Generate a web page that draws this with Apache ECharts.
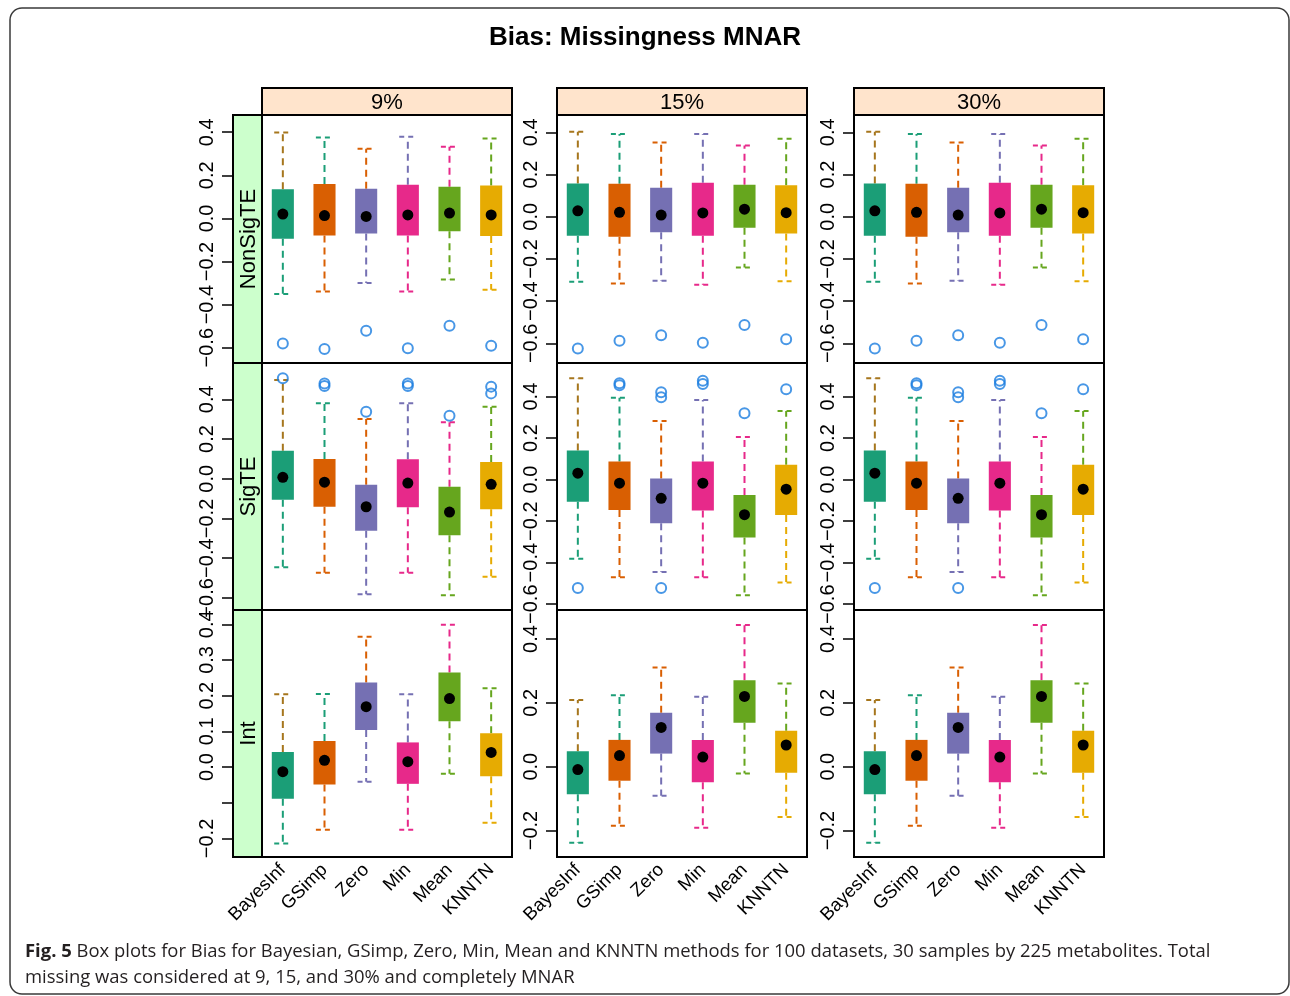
<!DOCTYPE html>
<html>
<head>
<meta charset="utf-8">
<script src="https://cdn.jsdelivr.net/npm/echarts@6/dist/echarts.min.js"></script>
<style>
html,body{margin:0;padding:0;background:#fff;}
#chart{width:1290px;height:996px;}
</style>
</head>
<body>
<div id="chart"></div>
<script>
// ---------------- DATA ----------------
const methods = ['BayesInf', 'GSimp', 'Zero', 'Min', 'Mean', 'KNNTN'];
const pctLabels = ['9%', '15%', '30%'];
const rowLabels = ['NonSigTE', 'SigTE', 'Int'];

// each row: [lowerWhisker, Q1, median, Q3, upperWhisker] per method
const nonSigTE_9 = [
  [-0.351, -0.094, 0.020, 0.135, 0.399],
  [-0.339, -0.079, 0.013, 0.160, 0.376],
  [-0.300, -0.070, 0.009, 0.138, 0.323],
  [-0.339, -0.079, 0.016, 0.156, 0.379],
  [-0.284, -0.060, 0.025, 0.147, 0.333],
  [-0.331, -0.082, 0.016, 0.153, 0.371]
];
const nonSigTE_15 = [
  [-0.308, -0.090, 0.028, 0.158, 0.403],
  [-0.316, -0.095, 0.021, 0.156, 0.392],
  [-0.303, -0.074, 0.008, 0.137, 0.352],
  [-0.322, -0.090, 0.018, 0.161, 0.392],
  [-0.240, -0.052, 0.036, 0.152, 0.338],
  [-0.306, -0.079, 0.019, 0.149, 0.370]
];
const nonSigTE_30 = [
  [-0.308, -0.090, 0.028, 0.158, 0.403],
  [-0.316, -0.095, 0.021, 0.156, 0.392],
  [-0.303, -0.074, 0.008, 0.137, 0.352],
  [-0.322, -0.090, 0.018, 0.161, 0.392],
  [-0.240, -0.052, 0.036, 0.152, 0.338],
  [-0.306, -0.079, 0.019, 0.149, 0.370]
];
const sigTE_9 = [
  [-0.446, -0.106, 0.007, 0.141, 0.497],
  [-0.474, -0.141, -0.017, 0.099, 0.380],
  [-0.582, -0.262, -0.141, -0.030, 0.301],
  [-0.474, -0.143, -0.022, 0.098, 0.380],
  [-0.587, -0.284, -0.168, -0.040, 0.284],
  [-0.494, -0.153, -0.028, 0.084, 0.363]
];
const sigTE_15 = [
  [-0.381, -0.106, 0.031, 0.140, 0.489],
  [-0.470, -0.146, -0.017, 0.087, 0.395],
  [-0.445, -0.210, -0.090, 0.005, 0.283],
  [-0.470, -0.149, -0.017, 0.087, 0.384],
  [-0.557, -0.279, -0.169, -0.074, 0.206],
  [-0.496, -0.170, -0.046, 0.072, 0.331]
];
const sigTE_30 = [
  [-0.381, -0.106, 0.031, 0.140, 0.489],
  [-0.470, -0.146, -0.017, 0.087, 0.395],
  [-0.445, -0.210, -0.090, 0.005, 0.283],
  [-0.470, -0.149, -0.017, 0.087, 0.384],
  [-0.557, -0.279, -0.169, -0.074, 0.206],
  [-0.496, -0.170, -0.046, 0.072, 0.331]
];
const int_9 = [
  [-0.214, -0.089, -0.013, 0.042, 0.204],
  [-0.176, -0.049, 0.019, 0.073, 0.205],
  [-0.041, 0.104, 0.169, 0.237, 0.365],
  [-0.176, -0.047, 0.015, 0.069, 0.204],
  [-0.019, 0.128, 0.192, 0.265, 0.399],
  [-0.156, -0.026, 0.041, 0.095, 0.221]
];
const int_15 = [
  [-0.238, -0.086, -0.009, 0.048, 0.209],
  [-0.185, -0.044, 0.035, 0.084, 0.224],
  [-0.091, 0.041, 0.123, 0.169, 0.311],
  [-0.191, -0.049, 0.030, 0.084, 0.219],
  [-0.021, 0.138, 0.220, 0.271, 0.444],
  [-0.158, -0.019, 0.068, 0.113, 0.261]
];
const int_30 = [
  [-0.238, -0.086, -0.009, 0.048, 0.209],
  [-0.185, -0.044, 0.035, 0.084, 0.224],
  [-0.091, 0.041, 0.123, 0.169, 0.311],
  [-0.191, -0.049, 0.030, 0.084, 0.219],
  [-0.021, 0.138, 0.220, 0.271, 0.444],
  [-0.158, -0.019, 0.068, 0.113, 0.261]
];

// outliers: [methodIndex, value]
const out_nonSigTE_9 = [[0,-0.580],[1,-0.606],[2,-0.521],[3,-0.603],[4,-0.498],[5,-0.591]];
const out_nonSigTE_15 = [[0,-0.624],[1,-0.588],[2,-0.562],[3,-0.597],[4,-0.513],[5,-0.581]];
const out_nonSigTE_30 = [[0,-0.624],[1,-0.588],[2,-0.562],[3,-0.597],[4,-0.513],[5,-0.581]];
const out_sigTE_9 = [[0,0.506],[1,0.480],[1,0.467],[2,0.338],[3,0.480],[3,0.467],[4,0.317],[5,0.464],[5,0.430]];
const out_sigTE_15 = [[0,-0.522],[1,0.465],[1,0.455],[2,0.421],[2,0.397],[2,-0.522],[3,0.477],[3,0.461],[4,0.320],[5,0.436]];
const out_sigTE_30 = [[0,-0.522],[1,0.465],[1,0.455],[2,0.421],[2,0.397],[2,-0.522],[3,0.477],[3,0.461],[4,0.320],[5,0.436]];
const out_int_9 = [];
const out_int_15 = [];
const out_int_30 = [];

// y-axis ticks and labels per panel
const ticksWide = [-0.6, -0.4, -0.2, 0.0, 0.2, 0.4];
const ticksInt9 = [-0.2, -0.1, 0.0, 0.1, 0.2, 0.3, 0.4];
const labelsInt9 = [-0.2, 0.0, 0.1, 0.2, 0.3, 0.4];
const ticksInt = [-0.2, 0.0, 0.2, 0.4];

// y ranges per panel [min, max]
const yRangeNonSig = [[-0.671, 0.480], [-0.693, 0.482], [-0.693, 0.482]];
const yRangeSig = [[-0.661, 0.583], [-0.628, 0.562], [-0.628, 0.562]];
const yRangeInt = [[-0.252, 0.440], [-0.283, 0.491], [-0.283, 0.491]];

// ---------------- STYLE ----------------
const boxColors = ['#1b9e77', '#d95f02', '#7570b3', '#e7298a', '#66a61e', '#e6ab02'];
const upperColors = ['#a6761d', '#1b9e77', '#d95f02', '#7570b3', '#e7298a', '#66a61e'];
const lowerColors = ['#1b9e77', '#d95f02', '#7570b3', '#e7298a', '#66a61e', '#e6ab02'];
const outlierColor = '#1a7de0';
const FONT = '"Liberation Sans", Arial, Helvetica, sans-serif';
const CAP_FONT = '"Open Sans", sans-serif';

const colLeft = [262, 557, 854];
const panelW = 250;
const rowTop = [115, 363, 610];
const rowH = [248, 247, 247];
const stripTop = 88, stripH = 27;
const leftStripX = 233, leftStripW = 29;

const panelStats = [
  [nonSigTE_9, nonSigTE_15, nonSigTE_30],
  [sigTE_9, sigTE_15, sigTE_30],
  [int_9, int_15, int_30]
];
const panelOut = [
  [out_nonSigTE_9, out_nonSigTE_15, out_nonSigTE_30],
  [out_sigTE_9, out_sigTE_15, out_sigTE_30],
  [out_int_9, out_int_15, out_int_30]
];
const panelRange = [yRangeNonSig, yRangeSig, yRangeInt];
function panelTicks(r, c) {
  if (r < 2) return [ticksWide, ticksWide];
  if (c === 0) return [ticksInt9, labelsInt9];
  return [ticksInt, ticksInt];
}

function fmt(v) {
  return Number(v).toFixed(1).replace('-', '\u2212');
}

function renderBox(params, api) {
  const cat = api.value(0);
  const lo = api.coord([cat, api.value(1)]);
  const q1 = api.coord([cat, api.value(2)]);
  const med = api.coord([cat, api.value(3)]);
  const q3 = api.coord([cat, api.value(4)]);
  const hi = api.coord([cat, api.value(5)]);
  const bw = api.size([1, 0])[0] * 0.53;
  const cw = bw * 0.78;
  const x = med[0];
  const dash = [7, 5];
  const capDash = [5, 4];
  return {
    type: 'group',
    children: [
      { type: 'line', shape: { x1: x, y1: q3[1], x2: x, y2: hi[1] }, style: { stroke: upperColors[cat], lineWidth: 2, lineDash: dash } },
      { type: 'line', shape: { x1: x - cw / 2, y1: hi[1], x2: x + cw / 2, y2: hi[1] }, style: { stroke: upperColors[cat], lineWidth: 2, lineDash: capDash } },
      { type: 'line', shape: { x1: x, y1: q1[1], x2: x, y2: lo[1] }, style: { stroke: lowerColors[cat], lineWidth: 2, lineDash: dash } },
      { type: 'line', shape: { x1: x - cw / 2, y1: lo[1], x2: x + cw / 2, y2: lo[1] }, style: { stroke: lowerColors[cat], lineWidth: 2, lineDash: capDash } },
      { type: 'rect', shape: { x: x - bw / 2, y: q3[1], width: bw, height: q1[1] - q3[1] }, style: { fill: boxColors[cat] } },
      { type: 'circle', shape: { cx: x, cy: med[1], r: 5.5 }, style: { fill: '#000' } }
    ]
  };
}

const grids = [], xAxes = [], yAxes = [], series = [], graphics = [];

for (let r = 0; r < 3; r++) {
  for (let c = 0; c < 3; c++) {
    const gi = grids.length;
    grids.push({
      left: colLeft[c], top: rowTop[r], width: panelW, height: rowH[r],
      show: true, borderColor: '#000', borderWidth: 2, backgroundColor: '#fff'
    });
    xAxes.push({
      gridIndex: gi, type: 'category', data: methods, boundaryGap: true,
      axisLine: { show: false }, axisTick: { show: false }, splitLine: { show: false },
      axisLabel: {
        show: r === 2, rotate: 45, fontSize: 18.5, color: '#000', margin: 10,
        fontFamily: FONT, interval: 0
      }
    });
    const [tks, lbls] = panelTicks(r, c);
    const rng = panelRange[r][c];
    yAxes.push({
      gridIndex: gi, type: 'value', min: rng[0], max: rng[1],
      offset: c === 0 ? leftStripW : 0,
      axisLine: { show: false }, splitLine: { show: false },
      axisTick: { show: true, customValues: tks, length: 11, lineStyle: { color: '#000', width: 1.5 } },
      axisLabel: {
        show: true, customValues: lbls, rotate: 90, fontSize: 20, color: '#000',
        margin: 16, fontFamily: FONT, formatter: fmt
      }
    });
    const stats = panelStats[r][c];
    series.push({
      type: 'custom', xAxisIndex: gi, yAxisIndex: gi,
      renderItem: renderBox,
      encode: { x: 0, y: [1, 2, 3, 4, 5] },
      data: stats.map((s, i) => [i, s[0], s[1], s[2], s[3], s[4]]),
      z: 3, silent: true
    });
    series.push({
      type: 'scatter', xAxisIndex: gi, yAxisIndex: gi,
      data: panelOut[r][c],
      symbol: 'circle', symbolSize: 10,
      itemStyle: { color: 'rgba(0,0,0,0)', borderColor: outlierColor, borderWidth: 2 },
      z: 4, silent: true
    });
  }
}

// top strips
for (let c = 0; c < 3; c++) {
  graphics.push({
    type: 'rect', shape: { x: colLeft[c], y: stripTop, width: panelW, height: stripH },
    style: { fill: '#ffe4cc', stroke: '#000', lineWidth: 2 }, z: 10
  });
  graphics.push({
    type: 'text', x: colLeft[c] + panelW / 2, y: stripTop + stripH / 2 + 1,
    style: { text: pctLabels[c], font: '22px ' + FONT, fill: '#000', align: 'center', verticalAlign: 'middle' }, z: 11
  });
}
// left strips
for (let r = 0; r < 3; r++) {
  graphics.push({
    type: 'rect', shape: { x: leftStripX, y: rowTop[r], width: leftStripW, height: rowH[r] },
    style: { fill: '#ccffcc', stroke: '#000', lineWidth: 2 }, z: 10
  });
  graphics.push({
    type: 'text', x: leftStripX + leftStripW / 2 + 1, y: rowTop[r] + rowH[r] / 2, rotation: Math.PI / 2,
    style: { text: rowLabels[r], font: '22px ' + FONT, fill: '#000', align: 'center', verticalAlign: 'middle' }, z: 11
  });
}
// outer frame
graphics.push({
  type: 'rect', shape: { x: 10, y: 8, width: 1279, height: 986, r: 12 },
  style: { fill: 'none', stroke: '#3a3a3a', lineWidth: 1.5 }, z: 1
});
// caption
graphics.push({
  type: 'text', x: 25, y: 939,
  style: {
    text: '{b|Fig. 5} Box plots for Bias for Bayesian, GSimp, Zero, Min, Mean and KNNTN methods for 100 datasets, 30 samples by 225 metabolites. Total\nmissing was considered at 9, 15, and 30% and completely MNAR',
    fontSize: 18.45, fontFamily: CAP_FONT, fill: '#231f20', lineHeight: 26,
    rich: { b: { fontWeight: 'bold', fontSize: 18.45, fontFamily: CAP_FONT, fill: '#231f20', lineHeight: 26 } }
  }, z: 11
});

const chart = echarts.init(document.getElementById('chart'), null, { renderer: 'canvas' });
chart.setOption({
  backgroundColor: '#fff',
  animation: false,
  title: {
    text: 'Bias: Missingness MNAR', left: 'center', top: 20,
    textStyle: { fontSize: 26, fontWeight: 'bold', color: '#000', fontFamily: FONT }
  },
  grid: grids, xAxis: xAxes, yAxis: yAxes, series: series, graphic: graphics
});
</script>
</body>
</html>
